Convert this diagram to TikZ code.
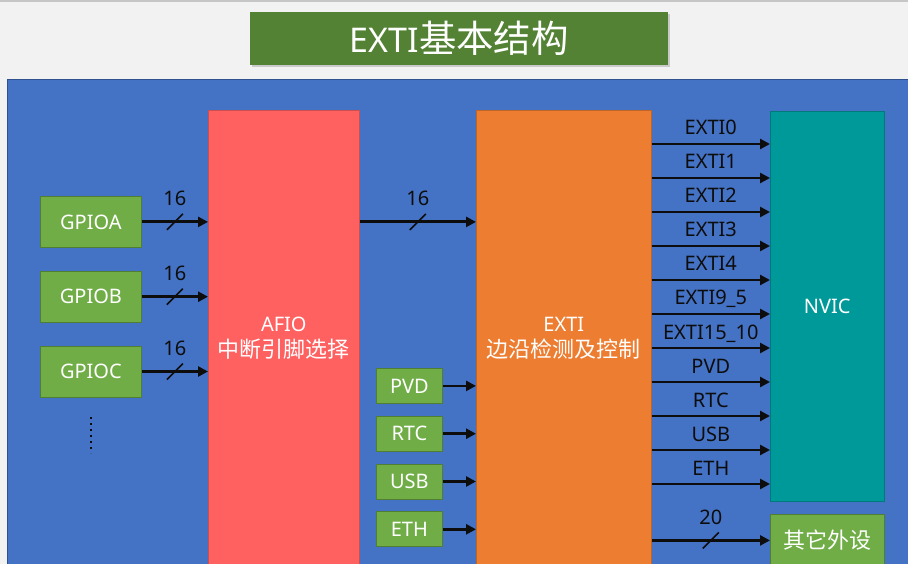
\documentclass[tikz,border=0pt]{standalone}
\usepackage{fontspec}
\setmainfont{Noto Sans}
\newfontfamily\cjk[Scale=1.1]{Noto Sans CJK SC}
\usetikzlibrary{positioning,arrows.meta,shadows,decorations.markings}

\definecolor{pageGray}{HTML}{F2F2F2}
\definecolor{titleGreen}{HTML}{548235}
\definecolor{panelBlue}{HTML}{4472C4}
\definecolor{panelLine}{HTML}{2F528F}
\definecolor{boxGreen}{HTML}{70AD47}
\definecolor{boxGreenLine}{HTML}{507E32}
\definecolor{afioRed}{HTML}{FF6161}
\definecolor{extiOrange}{HTML}{ED7D31}
\definecolor{nvicTeal}{HTML}{009999}
\definecolor{labelBlack}{HTML}{0D0D0D}

\tikzset{
    block/.style={
        rectangle,
        inner sep=0pt,
        anchor=north west,
        align=center,
        text=white,
        font=\fontsize{20}{26}\selectfont
    },
    gpio/.style={
        block,
        fill=boxGreen,
        draw=boxGreenLine,
        line width=0.8pt,
        minimum width=101pt,
        minimum height=51pt
    },
    source/.style={
        gpio,
        minimum width=66pt,
        minimum height=35pt
    },
    unit/.style={
        block,
        draw=#1!80!black,
        fill=#1,
        line width=0.6pt,
        minimum width=151pt,
        minimum height=456pt
    },
    arrow/.style={
        -{Triangle[length=10pt,width=10pt]},
        line width=2.8pt,
        draw=labelBlack
    },
    bus/.style={
        arrow,
        postaction={decorate},
        decoration={markings, mark=at position 0.5 with {\draw[-, line width=1.6pt] (-8pt,-8pt) -- (8pt,8pt);}}
    },
    signal/.style={
        font=\fontsize{20}{22}\selectfont,
        text=labelBlack,
        inner sep=0pt,
        anchor=base
    }
}

\begin{document}
\begin{tikzpicture}[x=1pt, y=-1pt]
    \useasboundingbox (0,0) rectangle (908,564);
    \clip (0,0) rectangle (908,564);
    \fill[pageGray] (0,0) rectangle (908,564);
    \draw[gray!45, line width=2pt] (0,1) -- (908,1);

    % title and background panel
    \node[block, fill=titleGreen, minimum width=418pt, minimum height=53pt,
          drop shadow={opacity=0.35, shadow xshift=2pt, shadow yshift=-2pt},
          font=\fontsize{34}{40}\selectfont] (title) at (250,12) {EXTI{\cjk 基本结构}};
    \node[block, fill=panelBlue, draw=panelLine, line width=0.8pt,
          minimum width=910pt, minimum height=495pt] (panel) at (7,79) {};

    % GPIO ports
    \node[gpio] (gpioa) at (40,196) {GPIOA};
    \node[gpio, below=23pt of gpioa] (gpiob) {GPIOB};
    \node[gpio, below=23pt of gpiob] (gpioc) {GPIOC};
    \draw[labelBlack, line width=2pt, dash pattern=on 2pt off 4pt]
        ([yshift=-20pt]gpioc.south) -- ++(0,36);

    % main units
    \node[unit=afioRed] (afio) at (208,110) {AFIO\\{\cjk 中断引脚选择}};
    \node[unit=extiOrange, minimum width=175pt] (exti) at (476,110) {EXTI\\{\cjk 边沿检测及控制}};
    \node[unit=nvicTeal, minimum width=114pt, minimum height=390pt] (nvic) at (770,111) {NVIC};
    \node[gpio, minimum width=114pt, minimum height=52pt] (other) at (770,514) {\cjk 其它外设};

    % other sources
    \node[source] (pvd) at (376,368) {PVD};
    \node[source, below=12pt of pvd] (rtc) {RTC};
    \node[source, below=12pt of rtc] (usb) {USB};
    \node[source, below=12pt of usb] (eth) {ETH};

    % GPIO ports into AFIO
    \foreach \port in {gpioa,gpiob,gpioc}
        \draw[bus] (\port.east) -- node[signal, yshift=16pt] {16} (\port.east -| afio.west);
    \draw[bus] (afio.east |- gpioa.east) -- node[signal, yshift=16pt] {16} (exti.west |- gpioa.east);

    \foreach \src in {pvd,rtc,usb,eth}
        \draw[arrow] (\src.east) -- (\src.east -| exti.west);

    % EXTI lines into NVIC
    \foreach \sig [count=\i from 0, evaluate=\i as \dy using 34+34*\i] in
        {EXTI0,EXTI1,EXTI2,EXTI3,EXTI4,EXTI9\_5,EXTI15\_10,PVD,RTC,USB,ETH} {
        \coordinate (line\i) at ([yshift=-\dy]exti.north east);
        \draw[arrow] (line\i) -- node[signal, yshift=9pt] {\sig} (line\i -| nvic.west);
    }
    \draw[bus] (exti.east |- other.west) -- node[signal, yshift=16pt] {20} (other.west);
\end{tikzpicture}
\end{document}
